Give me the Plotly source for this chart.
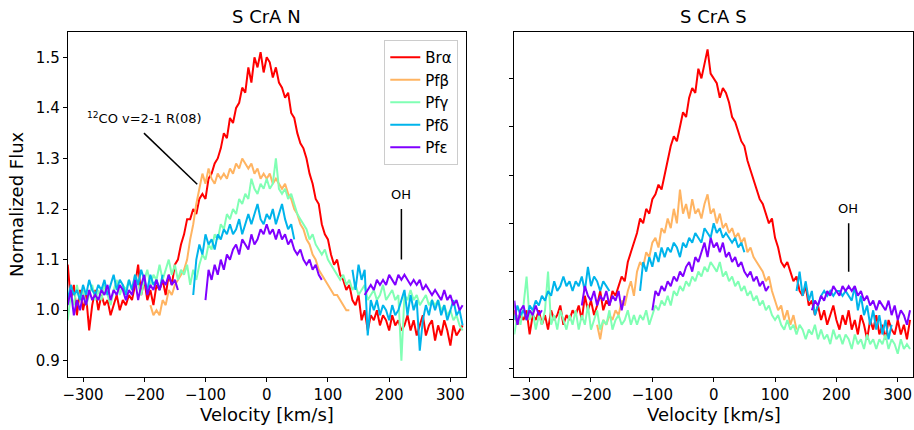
import plotly.graph_objects as go

# velocity grid (km/s), shared by all spectra
VELOCITY = list(range(-325, 321, 5))

LINES = ["Brα", "Pfβ", "Pfγ", "Pfδ", "Pfε"]
COLORS = ["#ff0000", "#ffb462", "#80ffb4", "#00b4eb", "#8000ff"]

_ = None
# ---------------- S CrA N ----------------
N_BRA = [1.09, 1.02, 1.05, 0.99, 1.04, 1.00, 1.03, 0.96, 1.01, 1.04,
         1.00, 1.03, 1.01, 1.02, 0.99, 1.01, 1.03, 1.00, 1.02, 1.01,
         1.03, 1.02, 1.05, 1.09, 1.03, 1.06, 1.02, 1.04, 1.01, 1.05,
         1.04, 1.06, 1.03, 1.07, 1.05, 1.09, 1.10, 1.13, 1.15, 1.18,
         1.18, 1.20, 1.19, 1.22, 1.23, 1.22, 1.26, 1.27, 1.29, 1.30,
         1.32, 1.35, 1.34, 1.38, 1.37, 1.40, 1.41, 1.44, 1.43, 1.48,
         1.45, 1.50, 1.48, 1.51, 1.47, 1.50, 1.49, 1.46, 1.48, 1.45,
         1.44, 1.42, 1.43, 1.39, 1.38, 1.35, 1.33, 1.32, 1.30, 1.27,
         1.25, 1.22, 1.21, 1.17, 1.15, 1.14, 1.11, 1.09, 1.10, 1.07,
         1.06, 1.04, 1.05, 1.02, 1.01, 1.03, 0.98, 1.00, 0.96, 0.99,
         0.98, 1.00, 0.97, 0.99, 0.98, 0.96, 0.99, 0.97, 0.98, 0.96,
         0.97, 0.99, 0.96, 0.98, 0.95, 0.97, 0.99, 0.95, 0.97, 0.98,
         0.94, 0.97, 0.95, 0.98, 0.96, 0.93, 0.97, 0.95, 0.96, 0.97]

N_PFB = [_, _, _, _, _, _, _, _, _, _,
         _, _, _, _, _, _, _, _, _, _,
         _, _, _, _, _, _, _, 1.01, 0.99, 1.00,
         0.99, 1.02, 1.01, 1.04, 1.03, 1.05, 1.06, 1.07, 1.08, 1.10,
         1.14, 1.17, 1.21, 1.24, 1.27, 1.25, 1.28, 1.26, 1.25, 1.27,
         1.26, 1.27, 1.26, 1.28, 1.27, 1.29, 1.28, 1.30, 1.29, 1.28,
         1.29, 1.27, 1.28, 1.26, 1.27, 1.26, 1.27, 1.25, 1.26, 1.25,
         1.24, 1.25, 1.23, 1.22, 1.20, 1.19, 1.17, 1.16, 1.14, 1.13,
         1.11, 1.10, 1.08, 1.07, 1.06, 1.05, 1.04, 1.03, 1.03, 1.02,
         1.01, 1.00, 1.00, _, _, _, _, _, _, _,
         _, _, _, _, _, _, _, _, _, _,
         _, _, _, _, _, _, _, _, _, _,
         _, _, _, _, _, _, _, _, _, _]

N_PFG = [0.98, 1.03, 1.01, 1.05, 1.02, 1.04, 1.01, 1.03, 1.05, 1.02,
         1.04, 1.02, 1.05, 1.03, 1.01, 1.04, 1.06, 1.03, 1.05, 1.04,
         1.06, 1.04, 1.07, 1.05, 1.03, 1.06, 1.08, 1.05, 1.07, 1.06,
         1.09, 1.06, 1.08, 1.10, 1.07, 1.09, 1.06, 1.08, 1.07, 1.09,
         1.05, 1.08, 1.06, 1.09, 1.11, 1.10, 1.13, 1.12, 1.15, 1.14,
         1.17, 1.16, 1.19, 1.18, 1.20, 1.19, 1.22, 1.21, 1.23, 1.22,
         1.26, 1.24, 1.23, 1.25, 1.24, 1.26, 1.24, 1.25, 1.30, 1.24,
         1.23, 1.24, 1.22, 1.23, 1.21, 1.19, 1.18, 1.17, 1.16, 1.14,
         1.15, 1.13, 1.12, 1.11, 1.12, 1.10, 1.09, 1.08, 1.07, 1.06,
         1.07, 1.05, 1.06, 1.04, 1.05, 1.03, 1.04, 1.05, 1.02, 1.03,
         1.04, 1.02, 1.03, 1.05, 1.02, 1.03, 1.04, 1.02, 1.03, 0.90,
         1.03, 1.02, 1.04, 1.02, 1.03, 1.01, 1.02, 1.03, 1.01, 1.02,
         1.01, 1.02, 1.00, 1.01, 0.99, 1.00, 0.98, 0.99, 0.97, 0.96]

N_PFD = [1.02, 1.05, 1.03, 1.04, 1.02, 1.05, 1.03, 1.06, 1.04, 1.03,
         1.05, 1.04, 1.06, 1.03, 1.05, 1.07, 1.04, 1.06, 1.05, 1.03,
         1.06, 1.04, 1.07, 1.05, 1.08, 1.06, 1.04, 1.07, 1.05, 1.06,
         1.04, 1.07, _, _, _, _, _, _, _, _,
         _, 1.03, 1.10, 1.13, 1.11, 1.15, 1.13, 1.14, 1.12, 1.15,
         1.14, 1.16, 1.15, 1.17, 1.15, 1.16, 1.18, 1.15, 1.17, 1.19,
         1.17, 1.19, 1.21, 1.18, 1.17, 1.19, 1.18, 1.20, 1.17, 1.19,
         1.21, 1.18, 1.16, 1.17, 1.14, _, _, _, _, _,
         _, _, _, _, _, _, _, _, _, _,
         _, _, _, 1.08, 1.04, 1.09, 1.06, 1.08, 0.95, 1.02,
         1.00, 1.02, 0.99, 1.01, 1.00, 0.98, 1.01, 0.99, 1.00, 1.02,
         1.04, 0.99, 1.03, 1.00, 1.02, 0.92, 0.98, 1.01, 0.99, 1.02,
         1.00, 1.02, 0.99, 1.01, 0.98, 1.00, 1.02, 0.99, 1.00, 0.97]

N_PFE = [1.01, 1.04, 0.99, 1.02, 1.00, 1.03, 1.01, 1.04, 1.02, 1.03,
         1.02, 1.04, 1.03, 1.05, 1.02, 1.04, 1.03, 1.05, 1.04, 1.02,
         1.04, 1.03, 1.06, 1.02, 1.05, 1.07, 1.03, 1.05, 1.04, 1.06,
         1.04, 1.06, 1.05, 1.07, 1.05, 1.06, 1.04, _, _, _,
         _, _, _, _, _, 1.02, 1.08, 1.06, 1.09, 1.07,
         1.10, 1.08, 1.11, 1.10, 1.12, 1.13, 1.11, 1.14, 1.13, 1.12,
         1.15, 1.13, 1.14, 1.16, 1.15, 1.17, 1.15, 1.16, 1.14, 1.16,
         1.14, 1.15, 1.13, 1.14, 1.12, 1.11, 1.12, 1.10, 1.09, 1.10,
         1.08, 1.09, 1.07, 1.06, _, _, _, _, _, _,
         _, _, _, _, _, _, _, 1.03, 1.04, 1.05,
         1.04, 1.06, 1.05, 1.06, 1.05, 1.07, 1.06, 1.05, 1.07, 1.06,
         1.07, 1.06, 1.05, 1.06, 1.05, 1.06, 1.04, 1.05, 1.04, 1.03,
         1.04, 1.03, 1.02, 1.04, 1.02, 1.03, 1.01, 1.02, 1.00, 1.01]

# ---------------- S CrA S ----------------
S_BRA = [1.02, 0.99, 1.01, 1.00, 1.02, 0.97, 1.01, 1.00, 1.02, 0.99,
         1.01, 0.98, 1.02, 1.00, 1.01, 1.03, 0.99, 1.01, 1.00, 1.02,
         1.01, 1.03, 1.00, 1.05, 1.02, 1.04, 1.01, 1.03, 1.06, 1.02,
         1.04, 1.03, 1.06, 1.05, 1.07, 1.09, 1.08, 1.12, 1.14, 1.16,
         1.18, 1.21, 1.20, 1.23, 1.22, 1.25, 1.26, 1.28, 1.27, 1.30,
         1.33, 1.36, 1.38, 1.37, 1.40, 1.43, 1.42, 1.46, 1.48, 1.47,
         1.52, 1.50, 1.53, 1.56, 1.51, 1.50, 1.49, 1.46, 1.48, 1.47,
         1.45, 1.42, 1.41, 1.39, 1.37, 1.36, 1.33, 1.31, 1.29, 1.27,
         1.25, 1.24, 1.22, 1.20, 1.21, 1.17, 1.15, 1.12, 1.11, 1.12,
         1.10, 1.08, 1.09, 1.06, 1.05, 1.07, 1.03, 1.04, 1.01, 1.03,
         1.00, 1.02, 0.99, 1.01, 1.03, 1.00, 0.98, 1.01, 0.99, 1.02,
         0.98, 1.00, 0.97, 1.01, 0.99, 0.96, 1.00, 0.98, 1.01, 0.97,
         0.99, 0.96, 1.00, 0.98, 0.97, 1.00, 0.97, 0.99, 0.96, 1.00]

S_PFB = [_, _, _, _, _, _, _, _, _, _,
         _, _, _, _, _, _, _, _, _, _,
         _, _, _, _, _, _, _, 0.99, 0.96, 1.00,
         0.99, 1.01, 1.00, 1.02, 1.01, 1.04, 1.03, 1.06, 1.08, 1.05,
         1.10, 1.12, 1.11, 1.14, 1.13, 1.16, 1.17, 1.15, 1.19, 1.18,
         1.21, 1.19, 1.23, 1.20, 1.27, 1.22, 1.24, 1.21, 1.25, 1.22,
         1.23, 1.21, 1.24, 1.26, 1.22, 1.23, 1.20, 1.22, 1.19, 1.20,
         1.18, 1.19, 1.17, 1.18, 1.16, 1.17, 1.14, 1.15, 1.13, 1.12,
         1.11, 1.10, 1.08, 1.09, 1.06, 1.04, 1.02, 1.03, 1.00, 1.02,
         0.99, 1.01, 0.98, _, _, _, _, _, _, _,
         _, _, _, _, _, _, _, _, _, _,
         _, _, _, _, _, _, _, _, _, _,
         _, _, _, _, _, _, _, _, _, _]

S_PFG = [0.97, 1.01, 0.99, 1.03, 1.09, 1.00, 1.02, 0.98, 1.01, 0.99,
         1.02, 1.10, 0.99, 1.01, 0.98, 1.02, 1.00, 0.98, 1.01, 0.99,
         1.02, 0.98, 1.01, 0.99, 1.03, 0.98, 1.00, 1.02, 0.98, 1.00,
         0.99, 1.02, 0.98, 1.00, 1.01, 0.99, 1.00, 1.02, 0.99, 1.01,
         0.99, 1.01, 1.00, 1.02, 0.99, 1.01, 1.03, 1.02, 1.04, 1.03,
         1.05, 1.03, 1.06, 1.05, 1.07, 1.06, 1.08, 1.07, 1.09, 1.08,
         1.10, 1.09, 1.11, 1.10, 1.12, 1.11, 1.10, 1.12, 1.09, 1.10,
         1.08, 1.09, 1.07, 1.08, 1.06, 1.07, 1.05, 1.06, 1.04, 1.05,
         1.03, 1.04, 1.02, 1.03, 1.01, 1.00, 1.01, 0.99, 0.98, 1.00,
         0.98, 0.99, 0.97, 0.99, 0.98, 0.96, 0.98, 0.97, 0.99, 0.96,
         0.98, 0.96, 0.97, 0.95, 0.98, 0.96, 0.97, 0.95, 0.97, 0.96,
         0.94, 0.97, 0.95, 0.96, 0.94, 0.97, 0.95, 0.96, 0.94, 0.96,
         0.95, 0.97, 0.94, 0.96, 0.95, 0.93, 0.96, 0.94, 0.95, 0.94]

S_PFD = [1.00, 1.03, 1.01, 1.02, 1.00, 1.03, 1.02, 1.04, 1.03, 1.05,
         1.04, 1.06, 1.05, 1.08, 1.06, 1.07, 1.09, 1.07, 1.08, 1.06,
         1.08, 1.07, 1.09, 1.06, 1.11, 1.07, 1.09, 1.08, 1.06, 1.08,
         1.07, 1.06, _, _, _, _, _, _, _, _,
         _, 1.06, 1.12, 1.10, 1.13, 1.11, 1.14, 1.12, 1.15, 1.13,
         1.15, 1.14, 1.16, 1.15, 1.13, 1.16, 1.15, 1.17, 1.16, 1.18,
         1.17, 1.16, 1.19, 1.18, 1.17, 1.20, 1.18, 1.19, 1.17, 1.18,
         1.17, 1.16, 1.17, 1.15, 1.16, 1.14, _, _, _, _,
         _, _, _, _, _, _, _, _, _, _,
         _, _, 1.06, 1.10, 1.05, 1.08, 1.04, 1.06, 1.01, 1.03,
         1.05, 1.06, 1.05, 1.06, 1.05, 1.06, 1.06, 1.05, 1.06, 1.05,
         1.04, 1.07, 1.02, 1.05, 1.01, 1.03, 0.99, 1.02, 0.98, 1.01,
         0.97, 1.00, 0.96, 0.99, _, _, _, _, _, _]

S_PFE = [1.04, 0.99, 1.02, 1.03, 1.00, 1.02, 1.01, 1.03, 1.01, 1.02,
         _, _, _, _, _, _, _, _, _, _,
         _, _, 1.03, 1.07, 1.05, 1.04, 1.06, 1.03, 1.05, 1.04,
         1.06, 1.03, 1.05, 1.04, 1.06, 1.02, 1.05, _, _, _,
         _, _, _, _, _, 1.02, 1.06, 1.05, 1.07, 1.06,
         1.08, 1.07, 1.09, 1.08, 1.10, 1.09, 1.11, 1.12, 1.10, 1.13,
         1.12, 1.14, 1.16, 1.13, 1.17, 1.15, 1.16, 1.14, 1.16, 1.13,
         1.14, 1.12, 1.13, 1.11, 1.12, 1.10, 1.09, 1.10, 1.08, 1.09,
         1.07, 1.08, 1.06, 1.07, _, _, _, _, _, _,
         _, _, _, _, _, _, _, 1.02, 1.04, 1.03,
         1.05, 1.04, 1.06, 1.05, 1.07, 1.06, 1.05, 1.07, 1.06, 1.07,
         1.06, 1.07, 1.05, 1.06, 1.04, 1.05, 1.03, 1.04, 1.02, 1.04,
         1.03, 1.02, 1.04, 1.01, 1.03, 1.00, 1.02, 1.01, 0.99, 1.02]

NORTH = [N_BRA, N_PFB, N_PFG, N_PFD, N_PFE]
SOUTH = [S_BRA, S_PFB, S_PFG, S_PFD, S_PFE]

FONT = "DejaVu Sans"
fig = go.Figure()

for name, color, ys in zip(LINES, COLORS, NORTH):
    fig.add_trace(go.Scatter(x=VELOCITY, y=ys, mode="lines", name=name,
                             line=dict(color=color, width=2),
                             xaxis="x", yaxis="y", showlegend=True))
for name, color, ys in zip(LINES, COLORS, SOUTH):
    fig.add_trace(go.Scatter(x=VELOCITY, y=ys, mode="lines", name=name,
                             line=dict(color=color, width=2),
                             xaxis="x2", yaxis="y2", showlegend=False))

XTICKS = [-300, -200, -100, 0, 100, 200, 300]
YTICKS = [0.9, 1.0, 1.1, 1.2, 1.3, 1.4, 1.5]

axis_common = dict(showline=True, mirror=True, linecolor="black", linewidth=1,
                   ticks="outside", ticklen=4, tickwidth=1, tickcolor="black",
                   showgrid=False, zeroline=False, automargin=False,
                   tickfont=dict(family=FONT, size=15, color="black"))

fig.update_layout(
    width=914, height=430,
    margin=dict(l=0, r=0, t=0, b=0),
    paper_bgcolor="white", plot_bgcolor="white",
    font=dict(family=FONT, color="black"),
    xaxis=dict(domain=[0.0741, 0.5095], range=[-325, 325], tickvals=XTICKS,
               anchor="y", **axis_common),
    yaxis=dict(domain=[0.1233, 0.9256], range=[0.868, 1.55], tickvals=YTICKS,
               tickformat=".1f", anchor="x", **axis_common),
    xaxis2=dict(domain=[0.5627, 0.9990], range=[-325, 325], tickvals=XTICKS,
                anchor="y2", **axis_common),
    yaxis2=dict(domain=[0.1233, 0.9256], range=[0.882, 1.596], tickvals=YTICKS,
                showticklabels=False, anchor="x2", **axis_common),
    legend=dict(x=0.5014, y=0.907, xanchor="right", yanchor="top",
                bgcolor="rgba(255,255,255,0.85)", bordercolor="#cccccc",
                borderwidth=1, font=dict(family=FONT, size=15, color="black"),
                tracegroupgap=0, itemwidth=30),
)

# titles and axis labels
ann = [
    dict(text="S CrA N", x=0.2918, y=0.9605, xref="paper", yref="paper",
         showarrow=False, font=dict(size=18), xanchor="center", yanchor="middle"),
    dict(text="S CrA S", x=0.7809, y=0.9605, xref="paper", yref="paper",
         showarrow=False, font=dict(size=18), xanchor="center", yanchor="middle"),
    dict(text="Velocity [km/s]", x=0.2918, y=0.035, xref="paper", yref="paper",
         showarrow=False, font=dict(size=18), xanchor="center", yanchor="middle"),
    dict(text="Velocity [km/s]", x=0.7809, y=0.035, xref="paper", yref="paper",
         showarrow=False, font=dict(size=18), xanchor="center", yanchor="middle"),
    dict(text="Normalized Flux", x=0.0186, y=0.5256, xref="paper", yref="paper",
         showarrow=False, font=dict(size=18), textangle=-90,
         xanchor="center", yanchor="middle"),
    dict(text="<sup>12</sup>CO v=2-1 R(08)", x=-200, y=1.38, xref="x", yref="y",
         showarrow=False, font=dict(size=13), xanchor="center", yanchor="middle"),
    dict(text="OH", x=220, y=1.228, xref="x", yref="y",
         showarrow=False, font=dict(size=13), xanchor="center", yanchor="middle"),
    dict(text="OH", x=219, y=1.23, xref="x2", yref="y2",
         showarrow=False, font=dict(size=13), xanchor="center", yanchor="middle"),
]
fig.update_layout(annotations=ann)

shapes = [
    dict(type="line", xref="x", yref="y", x0=-200.5, y0=1.35, x1=-113.5, y1=1.249,
         line=dict(color="black", width=1.5)),
    dict(type="line", xref="x", yref="y", x0=220, y0=1.20, x1=220, y1=1.10,
         line=dict(color="black", width=1.5)),
    dict(type="line", xref="x2", yref="y2", x0=220, y0=1.20, x1=220, y1=1.10,
         line=dict(color="black", width=1.5)),
]
fig.update_layout(shapes=shapes)

fig.write_html("out.html", config={"displayModeBar": False},
               post_script="document.body.style.margin='0px';document.body.style.overflow='hidden';")
